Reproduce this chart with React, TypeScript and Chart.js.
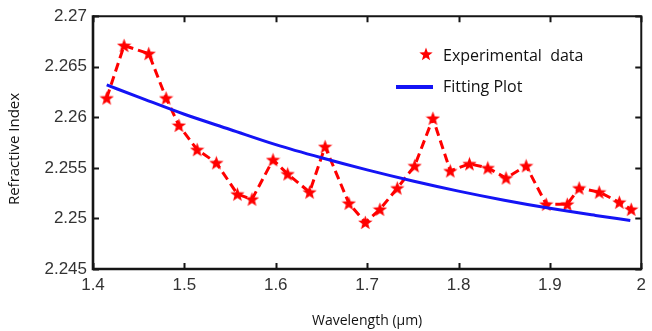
import React, { useEffect, useRef } from "react";
import { Chart, registerables } from "chart.js";

Chart.register(...registerables);

const wavelengths = [
  1.415, 1.434, 1.461, 1.48, 1.494, 1.514, 1.535, 1.558, 1.574, 1.597,
  1.613, 1.637, 1.654, 1.68, 1.698, 1.714, 1.733, 1.752, 1.772, 1.791,
  1.812, 1.832, 1.852, 1.874, 1.896, 1.919, 1.932, 1.954, 1.976, 1.989,
];
const refractiveIndex = [
  2.2619, 2.2671, 2.2663, 2.2619, 2.2592, 2.2568, 2.2555, 2.2524, 2.2519, 2.2558,
  2.2544, 2.2526, 2.2571, 2.2515, 2.2496, 2.2509, 2.253, 2.2552, 2.2599, 2.2547,
  2.2554, 2.255, 2.254, 2.2552, 2.2514, 2.2514, 2.253, 2.2526, 2.2516, 2.2509,
];

// Fitting curve samples
const fitWavelengths = [1.415, 1.45, 1.5, 1.55, 1.6, 1.65, 1.7, 1.75, 1.8, 1.85, 1.9, 1.95, 1.988];
const fitIndex = [2.2632, 2.262, 2.2603, 2.2588, 2.2573, 2.256, 2.2548, 2.2537, 2.2527, 2.2518, 2.251, 2.2503, 2.2498];

const xTicks = [1.4, 1.5, 1.6, 1.7, 1.8, 1.9, 2.0];
const yTicks = [2.245, 2.25, 2.255, 2.26, 2.265, 2.27];

const legendLabels = ["Experimental  data", "Fitting Plot"];
const xTitle = "Wavelength (\u00b5m)";
const yTitle = "Refractive Index";

const RED = "#ff0000";
const BLUE = "#1414f5";

function makeStar(size: number, color: string): HTMLCanvasElement {
  const c = document.createElement("canvas");
  c.width = size;
  c.height = size;
  const g = c.getContext("2d")!;
  const cx = size / 2;
  const cy = size / 2 + 0.6;
  const R = size / 2;
  const r = R * 0.42;
  g.beginPath();
  for (let i = 0; i < 10; i++) {
    const rad = i % 2 === 0 ? R : r;
    const a = -Math.PI / 2 + (i * Math.PI) / 5;
    const px = cx + rad * Math.cos(a);
    const py = cy + rad * Math.sin(a);
    if (i === 0) g.moveTo(px, py);
    else g.lineTo(px, py);
  }
  g.closePath();
  g.fillStyle = color;
  g.fill();
  return c;
}

export default function App() {
  const ref = useRef<HTMLCanvasElement | null>(null);

  useEffect(() => {
    if (!ref.current) return;
    const star = makeStar(15, RED);
    const legendStar = makeStar(14, RED);

    const framePlugin = {
      id: "frame",
      afterDatasetsDraw(chart: any) {
        const { ctx, chartArea } = chart;
        const { left, right, top, bottom } = chartArea;
        const xs = chart.scales.x;
        const ys = chart.scales.y;
        ctx.save();
        ctx.strokeStyle = "#151515";
        ctx.lineWidth = 2;
        ctx.beginPath();
        xTicks.forEach((v) => {
          const px = Math.round(xs.getPixelForValue(v)) + 0.5;
          ctx.moveTo(px, bottom);
          ctx.lineTo(px, bottom - 6);
          ctx.moveTo(px, top);
          ctx.lineTo(px, top + 6);
        });
        yTicks.forEach((v) => {
          const py = Math.round(ys.getPixelForValue(v)) + 0.5;
          ctx.moveTo(left, py);
          ctx.lineTo(left + 6, py);
          ctx.moveTo(right, py);
          ctx.lineTo(right - 6, py);
        });
        ctx.stroke();
        ctx.lineWidth = 2;
        ctx.beginPath();
        ctx.moveTo(left, top);
        ctx.lineTo(right, top);
        ctx.lineTo(right, bottom);
        ctx.stroke();
        ctx.lineWidth = 2.6;
        ctx.beginPath();
        ctx.moveTo(left, top - 1);
        ctx.lineTo(left, bottom);
        ctx.lineTo(right + 1, bottom);
        ctx.stroke();

        // legend
        ctx.font = '16px "Open Sans"';
        ctx.fillStyle = "#111";
        ctx.textBaseline = "middle";
        ctx.textAlign = "left";
        ctx.drawImage(legendStar, 426 - 7, 54 - 7);
        ctx.fillText(legendLabels[0], 443, 56);
        ctx.strokeStyle = BLUE;
        ctx.lineWidth = 4;
        ctx.beginPath();
        ctx.moveTo(396, 87);
        ctx.lineTo(433, 87);
        ctx.stroke();
        ctx.fillText(legendLabels[1], 443, 87);

        // axis titles
        ctx.font = '14px "Open Sans"';
        ctx.fillStyle = "#111";
        ctx.textAlign = "center";
        ctx.fillText(xTitle, (left + right) / 2, 321);
        ctx.font = '15px "Open Sans"';
        ctx.translate(15, 149);
        ctx.rotate(-Math.PI / 2);
        ctx.fillText(yTitle, 0, 0);
        ctx.restore();
      },
    };

    const chart = new Chart(ref.current, {
      type: "line",
      data: {
        datasets: [
          {
            label: legendLabels[0],
            data: wavelengths.map((w, i) => ({ x: w, y: refractiveIndex[i] })),
            borderColor: RED,
            backgroundColor: RED,
            borderWidth: 3,
            borderDash: [9, 5],
            pointStyle: star as any,
            pointRadius: 7,
            tension: 0,
            order: 2,
          },
          {
            label: legendLabels[1],
            data: fitWavelengths.map((w, i) => ({ x: w, y: fitIndex[i] })),
            borderColor: BLUE,
            borderWidth: 3,
            pointRadius: 0,
            tension: 0.4,
            cubicInterpolationMode: "monotone",
            order: 1,
          },
        ],
      },
      options: {
        animation: false,
        responsive: false,
        layout: { padding: { left: 0, top: 14, right: 7, bottom: 0 } },
        plugins: {
          legend: { display: false },
          tooltip: { enabled: false },
        },
        scales: {
          x: {
            type: "linear",
            min: 1.4,
            max: 2.0,
            afterBuildTicks: (s: any) => {
              s.ticks = xTicks.map((v) => ({ value: v }));
            },
            afterFit: (s: any) => {
              s.height = 62;
            },
            grid: { display: false, drawTicks: false },
            border: { display: false },
            ticks: {
              padding: 6,
              color: "#333333",
              font: { family: '"Liberation Sans", Arial, sans-serif', size: 17 },
              callback: (v: any) => (Number(v) === 2 ? "2" : Number(v).toFixed(1)),
              maxRotation: 0,
              autoSkip: false,
            },
          },
          y: {
            type: "linear",
            min: 2.245,
            max: 2.27,
            afterBuildTicks: (s: any) => {
              s.ticks = yTicks.map((v) => ({ value: v }));
            },
            afterFit: (s: any) => {
              s.width = 93;
            },
            grid: { display: false, drawTicks: false },
            border: { display: false },
            ticks: {
              padding: 6,
              color: "#333333",
              font: { family: '"Liberation Sans", Arial, sans-serif', size: 17 },
              callback: (v: any) => String(Number(Number(v).toFixed(3))),
              autoSkip: false,
            },
          },
        },
      },
      plugins: [framePlugin],
    });
    return () => chart.destroy();
  }, []);

  return (
    <div style={{ position: "absolute", left: 0, top: 0, width: 652, height: 331, background: "#fff" }}>
      <canvas ref={ref} width={652} height={331} style={{ width: 652, height: 331, display: "block" }} />
    </div>
  );
}
